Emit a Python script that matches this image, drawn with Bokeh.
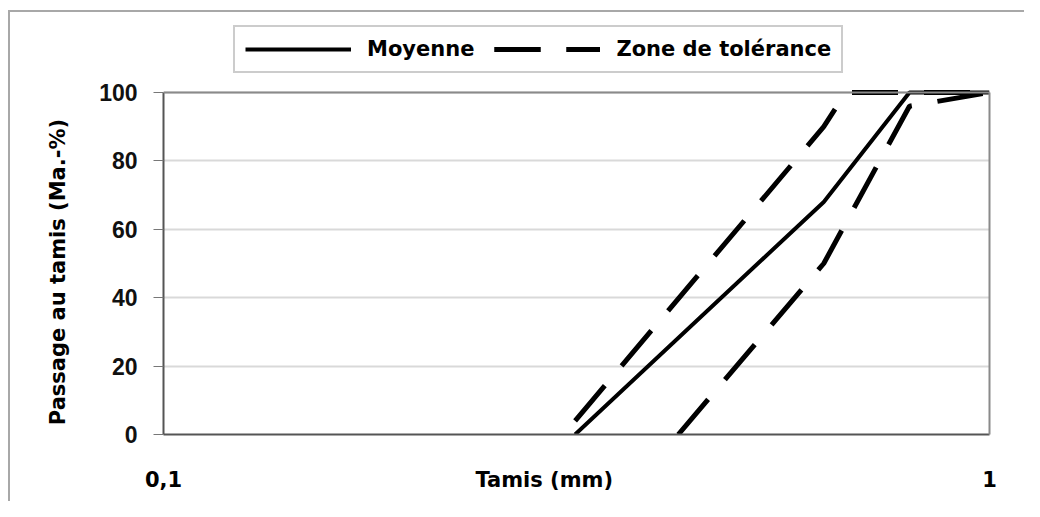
from bokeh.plotting import figure
from bokeh.models import (FixedTicker, Legend, LegendItem, Range1d, LinearAxis, Span)
from bokeh.embed import file_html
from bokeh.resources import INLINE

# Data (sieve size in mm, passing in mass-%)
sieve_mean = [0.315, 0.63, 0.8, 1.0]
pass_mean = [0, 68, 100, 100]
sieve_upper = [0.315, 0.63, 0.67, 1.0]
pass_upper = [4, 90, 100, 100]
sieve_lower = [0.42, 0.63, 0.8, 1.0]
pass_lower = [0, 50, 96, 100]
x_ticks = [0.1, 1.0]
x_tick_labels = ["0,1", "1"]
y_ticks = [0, 20, 40, 60, 80, 100]
x_title = "Tamis (mm)"
x_title_pos = 0.289   # position of the x title along the sieve axis
y_title = "Passage au tamis (Ma.-%)"
y_title_pos = 47.5

# layout: the frame reaches up to the legend so the legend is not clipped
FRAME_TOP, Y0_PX, Y100_PX = 20, 434, 92
y_end = 100.0 * (Y0_PX - FRAME_TOP) / (Y0_PX - Y100_PX)

p = figure(width=1024, height=501, x_axis_type="log",
           x_range=Range1d(0.1, 1.0), y_range=Range1d(0, y_end),
           output_backend="svg", toolbar_location=None,
           min_border_left=163, min_border_right=35,
           min_border_top=FRAME_TOP, min_border_bottom=501 - Y0_PX)
p.background_fill_color = "white"
p.border_fill_color = None
p.outline_line_color = None
p.styles = {
    "background": ("linear-gradient(#a8a8a8, #a8a8a8) 8px 10px / 1200px 2px no-repeat, "
                   "linear-gradient(#a8a8a8, #a8a8a8) 8px 10px / 2px 1200px no-repeat, white")
}

# x axis: the title shares the tick-label line, as in the source chart
xt = x_ticks + [x_title_pos]
xl = x_tick_labels + [x_title]
p.xaxis.ticker = FixedTicker(ticks=xt)
p.xaxis.major_label_overrides = {t: l for t, l in zip(xt, xl)}
p.xaxis.major_tick_line_color = None
p.xaxis.major_tick_out = 0
p.xaxis.major_tick_in = 0
p.xaxis.major_label_standoff = 33
p.xaxis.major_label_text_font = "DejaVu Sans"
p.xaxis.major_label_text_font_style = "bold"
p.xaxis.major_label_text_font_size = "21px"
p.xaxis.major_label_text_color = "black"

p.yaxis.ticker = FixedTicker(ticks=y_ticks)
p.yaxis.bounds = (0, 100)
p.yaxis.major_tick_line_color = "#777777"
p.yaxis.major_tick_out = 10
p.yaxis.major_tick_in = 0
p.yaxis.major_label_standoff = 16
p.yaxis.major_label_text_font = "Liberation Sans"
p.yaxis.major_label_text_font_style = "bold"
p.yaxis.major_label_text_font_size = "23px"
p.yaxis.major_label_text_color = "#111111"
for ax in (p.xaxis, p.yaxis):
    ax.axis_line_color = "#555555"
    ax.axis_line_width = 2
    ax.minor_tick_line_color = None

# y title as an outer left axis
ytitle_ax = LinearAxis(ticker=FixedTicker(ticks=[y_title_pos]),
                       major_label_overrides={y_title_pos: y_title},
                       major_label_orientation="vertical",
                       axis_line_color=None, major_tick_line_color=None,
                       minor_tick_line_color=None, major_tick_out=0, major_tick_in=0,
                       major_label_standoff=26,
                       major_label_text_font="DejaVu Sans",
                       major_label_text_font_style="bold",
                       major_label_text_font_size="21px",
                       major_label_text_color="black")
p.add_layout(ytitle_ax, "left")

# right border of the chart area
right_ax = LinearAxis(ticker=FixedTicker(ticks=[]), bounds=(0, 100),
                      axis_line_color="#8a8a8a", axis_line_width=2,
                      major_tick_line_color=None, minor_tick_line_color=None,
                      major_label_text_font_size="0px")
p.add_layout(right_ax, "right")

p.xgrid.grid_line_color = None
p.ygrid.grid_line_color = "#d9d9d9"
p.ygrid.grid_line_width = 2
p.add_layout(Span(location=100, dimension="width", line_color="#8a8a8a", line_width=2))

# lines
r_mean = p.line(sieve_mean, pass_mean, line_color="black", line_width=4)
r_up = p.line(sieve_upper, pass_upper, line_color="black", line_width=5,
              line_dash="46 26")
r_lo = p.line(sieve_lower, pass_lower, line_color="black", line_width=5,
              line_dash="46 26")

legend = Legend(items=[LegendItem(label="Moyenne", renderers=[r_mean]),
                       LegendItem(label="Zone de tolérance", renderers=[r_up, r_lo])],
                orientation="horizontal", location=(70, 361))
legend.label_text_font = "DejaVu Sans"
legend.label_text_font_style = "bold"
legend.label_text_font_size = "21px"
legend.label_text_color = "black"
legend.glyph_width = 106
legend.glyph_height = 20
legend.label_standoff = 16
legend.spacing = 20
legend.padding = 10
legend.margin = 0
legend.border_line_color = "#9a9a9a"
legend.border_line_width = 2
legend.background_fill_color = "white"
p.add_layout(legend, "center")

open("out.html", "w").write(file_html(p, INLINE))
